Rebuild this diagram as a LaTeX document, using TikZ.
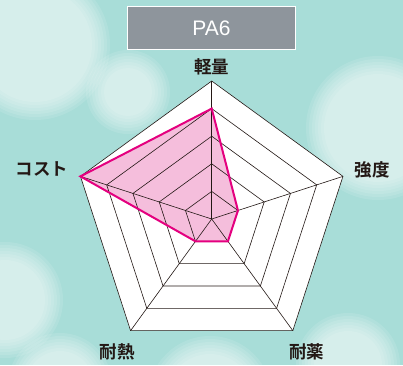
\documentclass[tikz,border=0pt]{standalone}
\usepackage{fontspec}
\usepackage{tikz}
\usetikzlibrary{positioning}
\newfontfamily\jpFont{Noto Sans CJK JP Bold}
\newfontfamily\titleFont{Liberation Sans}
\tikzstyle{chart} = [x = 1pt, y = -1pt]
\definecolor{backColor}{RGB}{168,221,216}
\definecolor{titleGray}{RGB}{142,149,156}
\definecolor{dataLine}{RGB}{228,0,127}
\definecolor{dataFill}{RGB}{245,190,220}
\definecolor{gridInk}{RGB}{35,24,21}
\tikzstyle{ringLine} = [color=gridInk, line width=.6pt, line join=miter]
\tikzstyle{axisText} = [font=\jpFont\fontsize{17.5}{17.5}\selectfont, text=gridInk, inner sep=0pt]
\tikzstyle{dataEdge} = [color=dataLine, line width=2pt, line join=miter]
\tikzstyle{bokehStyle} = [fill=white, opacity=.11]
\tikzstyle{titleBox} = [fill=titleGray, draw=white, line width=1pt, text=white, minimum width=168pt, minimum height=43pt, font=\titleFont\fontsize{21}{21}\selectfont]
\newcommand{\ringStep}{27.6}
\newcommand{\bokehCircle}[3]{
  \foreach \k in {0,...,6} {
    \fill [bokehStyle] (#1,#2) circle [radius={#3 - \k * 3}];
  }
}
\newcommand{\radarRing}[1]{
  \pgfmathsetmacro{\rad}{#1 * \ringStep}
  \draw [ringLine] (-90:\rad) -- (-18:\rad) -- (54:\rad) -- (126:\rad) -- (198:\rad) -- cycle;
}
\newcommand{\dataPath}{(-90:4*\ringStep) -- (-18:\ringStep) -- (54:\ringStep) -- (126:\ringStep) -- (198:5*\ringStep) -- cycle}

\begin{document}
\begin{tikzpicture}[chart]
      \useasboundingbox (0,0) rectangle (403,365);
      \fill [backColor] (0,0) rectangle (403,365);
      \bokehCircle{35}{45}{75}
      \bokehCircle{128}{92}{42}
      \bokehCircle{378}{128}{72}
      \bokehCircle{5}{300}{58}
      \bokehCircle{60}{385}{52}
      \bokehCircle{210}{398}{62}
      \bokehCircle{348}{365}{52}

      \node [titleBox] (titleBox) at (211.5,28.3) {PA6};

      \begin{scope}[shift={(211.7,219)}]
        \fill [white] (-90:138) -- (-18:138) -- (54:138) -- (126:138) -- (198:138) -- cycle;
        \fill [dataFill] \dataPath;
        \foreach \level in {1,...,5} {
          \radarRing{\level}
        }
        \foreach \angle in {-90,-18,54,126,198} {
          \draw [ringLine] (0,0) -- (\angle:138);
        }
        \draw [dataEdge] \dataPath;
      \end{scope}

      \node [axisText] (weightLabel) at (211.6,67) {軽量};
      \node [axisText] (strengthLabel) at (372,169.5) {強度};
      \node [axisText] (chemLabel) at (306.5,352) {耐薬};
      \node [axisText] (heatLabel) at (117,352) {耐熱};
      \node [axisText] (costLabel) at (42,169) {コスト};
    \end{tikzpicture}
\end{document}
